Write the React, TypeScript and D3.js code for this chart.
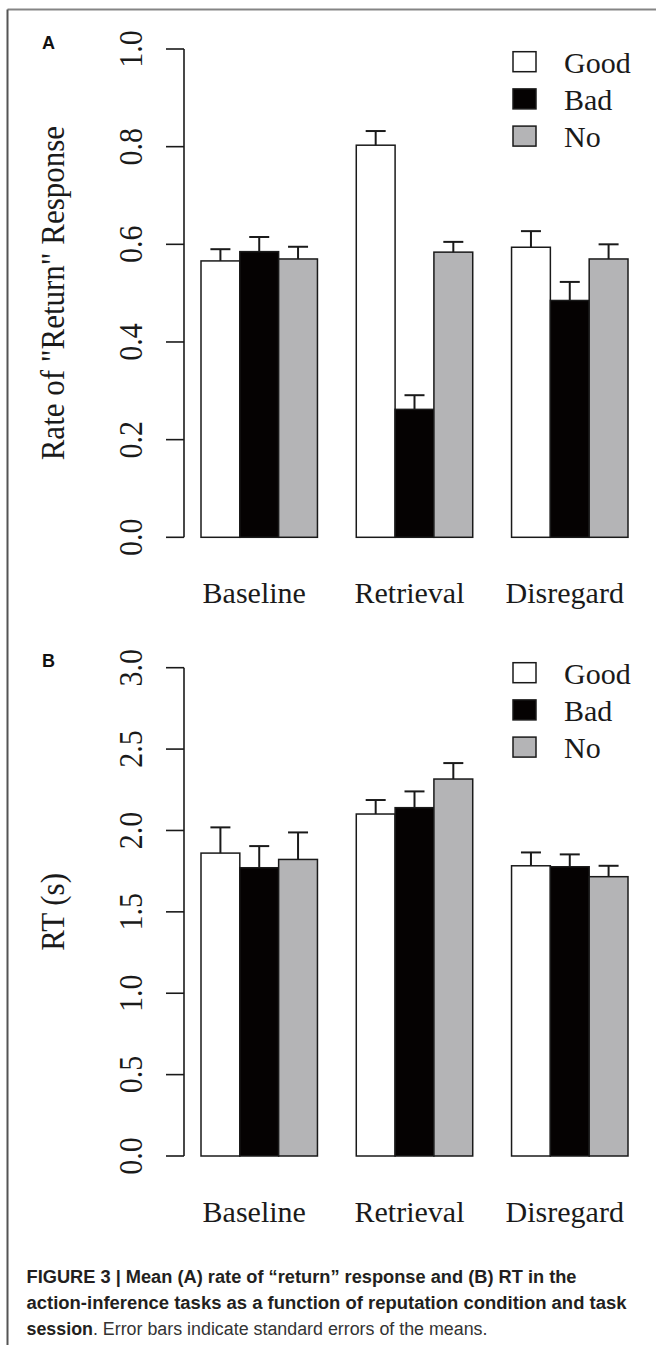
// Figure 3: rate of "return" response (A) and RT (B), grouped bars with SE whiskers
import * as d3 from 'd3';
import React, { useRef, useEffect } from 'react';

const sessions = ["Baseline", "Retrieval", "Disregard"];
const conditions = ["Good", "Bad", "No"];
const condFill = ["#ffffff", "#050202", "#b4b4b6"];

// panel A: mean rate of "return" response, one array per condition (Baseline, Retrieval, Disregard)
const rateGood = [0.566, 0.803, 0.594];
const rateBad = [0.585, 0.262, 0.485];
const rateNo = [0.570, 0.584, 0.570];
const rateGoodSE = [0.024, 0.029, 0.033];
const rateBadSE = [0.030, 0.029, 0.038];
const rateNoSE = [0.025, 0.021, 0.030];
const rateTicks = [0, 0.2, 0.4, 0.6, 0.8, 1.0];

// panel B: mean RT in seconds
const rtGood = [1.861, 2.101, 1.783];
const rtBad = [1.771, 2.140, 1.777];
const rtNo = [1.822, 2.316, 1.716];
const rtGoodSE = [0.158, 0.086, 0.082];
const rtBadSE = [0.133, 0.100, 0.076];
const rtNoSE = [0.166, 0.098, 0.067];
const rtTicks = [0, 0.5, 1.0, 1.5, 2.0, 2.5, 3.0];

const captionLines = [
  "FIGURE 3 | Mean (A) rate of \u201creturn\u201d response and (B) RT in the",
  "action-inference tasks as a function of reputation condition and task",
];

const W = 656, H = 1345;
const serif = "'Liberation Serif', 'Times New Roman', serif";
const sans = "'Liberation Sans', Arial, sans-serif";

function drawPanel(svg, opts) {
  const { top, bottom, domain, ticks, means, ses, title, letter, legendTop } = opts;
  const g = svg.append("g");

  const y = d3.scaleLinear().domain(domain).range([bottom, top]);
  const x0 = d3.scaleBand().domain(sessions).range([201, 628]).paddingInner(0.25).paddingOuter(0);
  const x1 = d3.scaleBand().domain(conditions).range([0, x0.bandwidth()]);
  const fmt = d3.format(".1f");

  // y axis (R style: line spans first to last tick)
  const axisX = 184;
  g.append("line")
    .attr("x1", axisX).attr("x2", axisX)
    .attr("y1", y(ticks[0])).attr("y2", y(ticks[ticks.length - 1]))
    .attr("stroke", "#1a1a1a").attr("stroke-width", 1.6);
  g.selectAll("line.tick").data(ticks).enter().append("line")
    .attr("class", "tick")
    .attr("x1", axisX - 18).attr("x2", axisX)
    .attr("y1", d => y(d)).attr("y2", d => y(d))
    .attr("stroke", "#1a1a1a").attr("stroke-width", 1.6);
  g.selectAll("text.tl").data(ticks).enter().append("text")
    .attr("class", "tl")
    .attr("transform", d => `translate(142,${y(d)}) rotate(-90) scale(1,1.1)`)
    .attr("text-anchor", "middle")
    .attr("font-family", serif).attr("font-size", 30)
    .attr("fill", "#1a1a1a")
    .text(d => fmt(d));

  // y title
  g.append("text")
    .attr("transform", `translate(64,${(top + bottom) / 2}) rotate(-90) scale(1,1.1)`)
    .attr("text-anchor", "middle")
    .attr("font-family", serif).attr("font-size", 31)
    .attr("fill", "#1a1a1a")
    .text(title);

  // panel letter
  g.append("text")
    .attr("x", 48.5).attr("y", top - 0.5)
    .attr("text-anchor", "middle")
    .attr("font-family", sans).attr("font-weight", "bold").attr("font-size", 18)
    .attr("fill", "#111")
    .text(letter);

  // bars
  const rows = [];
  sessions.forEach((s, i) => {
    conditions.forEach((c, j) => {
      rows.push({ s, c, j, v: means[j][i], se: ses[j][i] });
    });
  });

  g.selectAll("rect.bar").data(rows).enter().append("rect")
    .attr("class", "bar")
    .attr("x", d => x0(d.s) + x1(d.c))
    .attr("y", d => y(d.v))
    .attr("width", x1.bandwidth())
    .attr("height", d => y(domain[0]) - y(d.v))
    .attr("fill", d => condFill[d.j])
    .attr("stroke", "#1a1a1a").attr("stroke-width", 1.5);

  // error bars (upper only)
  const cx = d => x0(d.s) + x1(d.c) + x1.bandwidth() / 2;
  g.selectAll("line.err").data(rows).enter().append("line")
    .attr("class", "err")
    .attr("x1", cx).attr("x2", cx)
    .attr("y1", d => y(d.v)).attr("y2", d => y(d.v + d.se))
    .attr("stroke", "#1a1a1a").attr("stroke-width", 2);
  g.selectAll("line.cap").data(rows).enter().append("line")
    .attr("class", "cap")
    .attr("x1", d => cx(d) - 10).attr("x2", d => cx(d) + 10)
    .attr("y1", d => y(d.v + d.se)).attr("y2", d => y(d.v + d.se))
    .attr("stroke", "#1a1a1a").attr("stroke-width", 2);

  // session labels
  g.selectAll("text.xl").data(sessions).enter().append("text")
    .attr("class", "xl")
    .attr("x", d => x0(d) + x0.bandwidth() / 2 - 5)
    .attr("y", bottom + 66)
    .attr("text-anchor", "middle")
    .attr("font-family", serif).attr("font-size", 30)
    .attr("fill", "#1a1a1a")
    .text(d => d);

  // legend
  const lg = g.selectAll("g.leg").data(conditions).enter().append("g")
    .attr("class", "leg")
    .attr("transform", (d, i) => `translate(513,${legendTop + i * 37.2})`);
  lg.append("rect")
    .attr("width", 23).attr("height", 20)
    .attr("fill", (d, i) => condFill[i])
    .attr("stroke", "#1a1a1a").attr("stroke-width", 1.5);
  lg.append("text")
    .attr("x", 51).attr("y", 21)
    .attr("font-family", serif).attr("font-size", 30)
    .attr("fill", "#1a1a1a")
    .text(d => d);
}

function App() {
  const ref = useRef(null);

  useEffect(() => {
    const svg = d3.select(ref.current);
    svg.selectAll("*").remove();

    svg.append("rect").attr("width", W).attr("height", H).attr("fill", "#fff");

    // frame (open on right and bottom, as in the cropped figure)
    svg.append("line")
      .attr("x1", 7.5).attr("x2", W).attr("y1", 9.5).attr("y2", 9.5)
      .attr("stroke", "#858585").attr("stroke-width", 2);
    svg.append("line")
      .attr("x1", 7.5).attr("x2", 7.5).attr("y1", 9.5).attr("y2", H)
      .attr("stroke", "#555").attr("stroke-width", 2);

    drawPanel(svg, {
      top: 49, bottom: 537.3, domain: [0, 1], ticks: rateTicks,
      means: [rateGood, rateBad, rateNo], ses: [rateGoodSE, rateBadSE, rateNoSE],
      title: "Rate of \"Return\" Response", letter: "A", legendTop: 51.7,
    });
    drawPanel(svg, {
      top: 667.7, bottom: 1156, domain: [0, 3], ticks: rtTicks,
      means: [rtGood, rtBad, rtNo], ses: [rtGoodSE, rtBadSE, rtNoSE],
      title: "RT (s)", letter: "B", legendTop: 662.7,
    });

    // caption
    const cap = svg.append("g").attr("font-family", sans).attr("font-size", 18).attr("fill", "#231f20");
    const lens = [550, 600];
    captionLines.forEach((t, i) => {
      cap.append("text")
        .attr("x", 26.5).attr("y", 1283 + i * 25.8)
        .attr("font-weight", "bold")
        .attr("textLength", lens[i]).attr("lengthAdjust", "spacingAndGlyphs")
        .text(t);
    });
    const last = cap.append("text")
      .attr("x", 26.5).attr("y", 1334.6)
      .attr("textLength", 461).attr("lengthAdjust", "spacingAndGlyphs");
    last.append("tspan").attr("font-weight", "bold").text("session");
    last.append("tspan").attr("fill", "#333").text(". Error bars indicate standard errors of the means.");
  }, []);

  return (
    <svg ref={ref} width={W} height={H}
      style={{ position: "absolute", left: 0, top: 0, display: "block" }}>
    </svg>
  );
}

export default App;
